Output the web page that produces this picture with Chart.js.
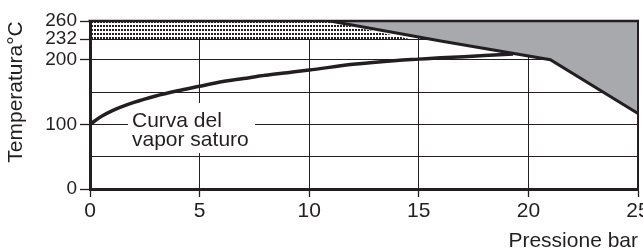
<!DOCTYPE html>
<html>
<head>
<meta charset="utf-8">
<script src="https://cdn.jsdelivr.net/npm/chart.js@4.4.1/dist/chart.umd.min.js"></script>
<style>
html,body{margin:0;padding:0;background:#fff;}
#wrap{width:643px;height:249px;}
</style>
</head>
<body>
<div id="wrap"><canvas id="c" width="643" height="249"></canvas></div>
<script>
// ---- data ----
const pressure = [0, 0.5, 1, 2, 3, 4, 5, 6, 7, 8, 9, 10, 12, 14, 15, 16, 18, 19.3];
const tempSat  = [100, 112, 121, 134, 144, 152, 159, 166, 171, 176, 180, 184, 193, 199, 201, 203, 206.5, 209];
const limitPressure = [10.95, 16, 21, 25];
const limitTemp     = [260, 229, 200, 117];
const bandPressure = [0, 10.8, 14.6];
const bandTemp     = [260, 260, 232];
const xTickValues = [0, 5, 10, 15, 20, 25];
const yTickValues = [0, 50, 100, 150, 200, 232, 260];
const yLabelled   = [0, 100, 200, 232, 260];
const curveLabel = ['Curva del', 'vapor saturo'];
const yTitle = 'Temperatura°C';
const xTitle = 'Pressione bar';

const INK = '#231f20';
const GRAY = '#a7a9ac';
const FONT = '"Liberation Sans", Arial, Helvetica, sans-serif';

function pts(xs, ys){ return xs.map((x,i)=>({x:x, y:ys[i]})); }

// dotted pattern
const pc = document.createElement('canvas'); pc.width = 3; pc.height = 4;
const pg = pc.getContext('2d');
pg.fillStyle = '#fff'; pg.fillRect(0,0,3,4);
pg.fillStyle = INK; pg.fillRect(1,1,2,2);
const dots = pg.createPattern(pc, 'repeat');

const decor = {
  id: 'decor',
  beforeDatasetsDraw(chart){
    const {ctx} = chart;
    const ys = chart.scales.y;
    ctx.save();
    ctx.fillStyle = '#fff';
    ctx.fillRect(128, ys.getPixelForValue(133), 127, 50);
    ctx.restore();
  },
  afterDraw(chart){
    const {ctx, chartArea:a} = chart;
    ctx.save();
    ctx.strokeStyle = INK;
    ctx.lineWidth = 2.5;
    ctx.beginPath(); ctx.moveTo(a.left-1.5, a.top); ctx.lineTo(a.right+1, a.top); ctx.stroke();
    ctx.lineWidth = 2;
    ctx.beginPath(); ctx.moveTo(a.right, a.top); ctx.lineTo(a.right, a.bottom); ctx.stroke();
    ctx.fillStyle = INK;
    ctx.font = '21px ' + FONT;
    ctx.textAlign = 'left';
    ctx.textBaseline = 'alphabetic';
    ctx.fillText(curveLabel[0], 132, 126.5);
    ctx.fillText(curveLabel[1], 132, 146);
    ctx.textAlign = 'right';
    ctx.fillText(xTitle, 638, 246.5);
    ctx.translate(21.5, 92);
    ctx.rotate(-Math.PI/2);
    ctx.textAlign = 'center';
    ctx.fillText(yTitle, 0, 0);
    ctx.restore();
  }
};

new Chart(document.getElementById('c'), {
  type: 'line',
  data: {
    datasets: [
      { data: pts(pressure, tempSat), borderColor: INK, borderWidth: 3.5,
        pointRadius: 0, fill: false, cubicInterpolationMode: 'monotone' },
      { data: pts(limitPressure, limitTemp), borderColor: INK, borderWidth: 3,
        pointRadius: 0, tension: 0, fill: 'end', backgroundColor: GRAY },
      { data: pts(bandPressure, bandTemp), borderWidth: 0, borderColor: 'rgba(0,0,0,0)',
        pointRadius: 0, tension: 0, fill: {value: 232}, backgroundColor: dots }
    ]
  },
  options: {
    responsive: false,
    animation: false,
    devicePixelRatio: 1,
    layout: { padding: { top: 21, right: 5, left: 0, bottom: 0 } },
    plugins: { legend: {display: false}, tooltip: {enabled: false} },
    scales: {
      x: {
        type: 'linear', min: 0, max: 25,
        afterBuildTicks: s => { s.ticks = xTickValues.map(v => ({value: v})); },
        afterFit: s => { s.height = 60; s.paddingLeft = 0; s.paddingRight = 0; },
        grid: {
          color: c => (c.tick && c.tick.value > 0 && c.tick.value < 25) ? INK : 'rgba(0,0,0,0)',
          tickColor: INK, lineWidth: 1, tickWidth: 1.3, tickLength: 8, drawTicks: true
        },
        border: { color: INK, width: 3, z: 1 },
        ticks: { color: INK, font: { family: FONT, size: 21 }, padding: 2, maxRotation: 0, autoSkip: false }
      },
      y: {
        type: 'linear', min: 0, max: 260,
        afterBuildTicks: s => { s.ticks = yTickValues.map(v => ({value: v})); },
        afterFit: s => { s.width = 90; s.paddingTop = 0; s.paddingBottom = 0; },
        grid: {
          color: c => (c.tick && c.tick.value > 0 && c.tick.value < 260) ? INK : 'rgba(0,0,0,0)',
          tickColor: c => (c.tick && yLabelled.includes(c.tick.value)) ? INK : 'rgba(0,0,0,0)',
          lineWidth: 1, tickWidth: 1.3, tickLength: 10
        },
        border: { color: INK, width: 3, z: 1 },
        ticks: {
          color: INK, font: { family: FONT, size: 19 }, padding: 3, autoSkip: false,
          callback: v => yLabelled.includes(v) ? String(v) : ''
        }
      }
    }
  },
  plugins: [decor]
});
</script>
</body>
</html>
